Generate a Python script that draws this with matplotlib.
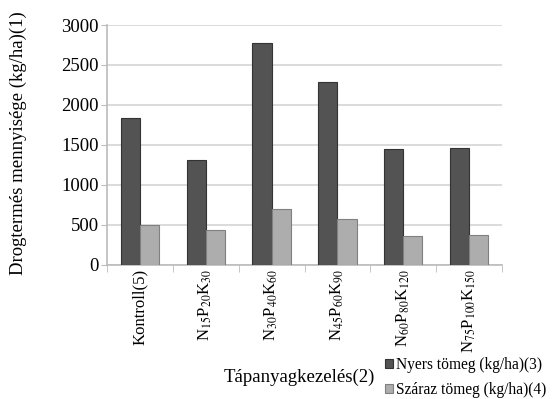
import matplotlib.pyplot as plt
import numpy as np

plt.rcParams['font.family'] = 'Liberation Serif'
plt.rcParams['mathtext.fontset'] = 'stix'

categories = ['Kontroll(5)', r'N$_{15}$P$_{20}$K$_{30}$', r'N$_{30}$P$_{40}$K$_{60}$',
              r'N$_{45}$P$_{60}$K$_{90}$', r'N$_{60}$P$_{80}$K$_{120}$', r'N$_{75}$P$_{100}$K$_{150}$']
nyers = [1830, 1310, 2780, 2280, 1450, 1465]
szaraz = [490, 430, 700, 575, 355, 365]

fig = plt.figure(figsize=(5.55, 3.99), dpi=100)
ax = fig.add_axes([107 / 555, 1 - 264.5 / 399, 395 / 555, 239.5 / 399])

x = np.arange(len(categories))
w = 0.29
ax.bar(x - w / 2, nyers, w, color='#535353', edgecolor='#333333', linewidth=0.8,
       label='Nyers tömeg (kg/ha)(3)', zorder=3)
ax.bar(x + w / 2, szaraz, w, color='#adadad', edgecolor='#808080', linewidth=0.8,
       label='Száraz tömeg (kg/ha)(4)', zorder=3)

ax.set_xlim(-0.5, len(categories) - 0.5)
ax.set_ylim(0, 3000)
ax.set_yticks(range(0, 3001, 500))
ax.yaxis.grid(True, color='#d4d4d4', linewidth=1.2, zorder=0)
ax.set_axisbelow(True)
ax.tick_params(axis='y', labelsize=13.5, length=4, color='#bbbbbb', pad=2)

ax.set_xticks(x)
ax.set_xticklabels(categories, rotation=90, fontsize=12)
ax.tick_params(axis='x', length=0, pad=3)
ax.set_xticks(np.arange(-0.5, len(categories)), minor=True)
ax.tick_params(axis='x', which='minor', length=5, color='#bbbbbb')

for s in ['top', 'right']:
    ax.spines[s].set_visible(False)
for s in ['left', 'bottom']:
    ax.spines[s].set_color('#bbbbbb')
    ax.spines[s].set_linewidth(1.2)

fig.text(18 / 555, 1 - 143 / 399, 'Drogtermés mennyisége (kg/ha)(1)', fontsize=13.5,
         rotation=90, ha='center', va='center')
fig.text(299 / 555, 1 - 377 / 399, 'Tápanyagkezelés(2)', fontsize=13.5, ha='center', va='center')

fig.legend(loc='upper left', bbox_to_anchor=(385 / 555, 1 - 357 / 399), frameon=False, fontsize=11.2,
           handlelength=0.5, handleheight=0.5, handletextpad=0.2, labelspacing=0.6,
           borderaxespad=0, borderpad=0)

fig.savefig('out.png', dpi=100)
